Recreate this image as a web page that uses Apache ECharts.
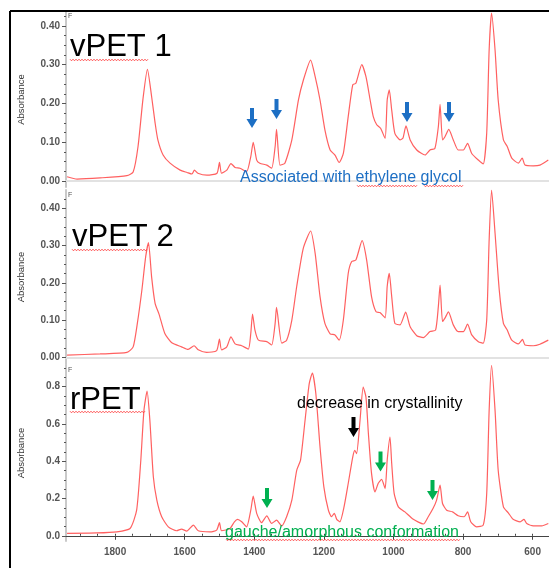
<!DOCTYPE html>
<html>
<head>
<meta charset="utf-8" />
<script src="https://cdn.jsdelivr.net/npm/echarts@6/dist/echarts.min.js"></script>
<style>
  html, body { margin: 0; padding: 0; background: #fff; }
  #chart { width: 549px; height: 568px; }
</style>
</head>
<body>
<div id="chart"></div>
<script>
// wavenumbers (cm-1) and absorbance
const wnVpet1 = [1938,1909,1843,1766,1748,1734,1720,1707,1695,1685,1677,1662,1642,1613,1593,1579,1572,1562,1536,1507,1500,1494,1479,1467,1455,1441,1422,1410,1403,1393,1384,1364,1350,1340,1336,1326,1312,1292,1273,1259,1238,1225,1211,1197,1182,1168,1156,1144,1130,1117,1108,1091,1079,1067,1058,1048,1037,1024,1018,1012,1005,996,981,973,964,952,933,909,895,881,871,866,859,852,841,828,814,799,787,775,756,742,732,725,718,708,699,684,673,660,641,630,622,598,579,555];
const absVpet1 = [0.011,0.005,0.008,0.014,0.023,0.089,0.21,0.288,0.218,0.15,0.106,0.067,0.046,0.028,0.022,0.018,0.028,0.02,0.015,0.02,0.048,0.02,0.028,0.045,0.035,0.033,0.024,0.063,0.10,0.054,0.046,0.041,0.033,0.089,0.133,0.041,0.046,0.106,0.209,0.26,0.312,0.269,0.209,0.132,0.08,0.067,0.048,0.071,0.166,0.248,0.252,0.30,0.269,0.209,0.166,0.145,0.136,0.11,0.209,0.235,0.183,0.123,0.106,0.11,0.142,0.106,0.08,0.067,0.08,0.084,0.14,0.198,0.106,0.114,0.133,0.106,0.08,0.08,0.097,0.071,0.054,0.044,0.124,0.338,0.433,0.338,0.209,0.106,0.089,0.059,0.046,0.059,0.041,0.039,0.041,0.054];

const wnVpet2 = [1938,1843,1766,1748,1736,1723,1712,1704,1695,1685,1673,1657,1637,1609,1590,1573,1561,1537,1508,1500,1494,1479,1467,1455,1436,1417,1410,1405,1398,1388,1364,1350,1340,1336,1321,1307,1292,1278,1259,1238,1225,1211,1197,1182,1168,1156,1144,1130,1120,1108,1090,1077,1063,1050,1039,1024,1018,1012,1005,996,981,965,952,933,914,895,879,871,866,859,852,842,828,814,799,787,775,756,742,732,725,718,708,696,684,673,660,641,629,622,598,579,555];
const absVpet2 = [0.006,0.009,0.013,0.028,0.091,0.18,0.27,0.308,0.216,0.145,0.114,0.064,0.039,0.028,0.021,0.031,0.02,0.013,0.018,0.049,0.02,0.028,0.055,0.036,0.031,0.022,0.064,0.116,0.073,0.046,0.042,0.033,0.091,0.134,0.038,0.046,0.10,0.19,0.293,0.339,0.279,0.163,0.091,0.063,0.06,0.046,0.10,0.225,0.257,0.261,0.313,0.261,0.163,0.122,0.12,0.106,0.19,0.225,0.163,0.091,0.087,0.121,0.082,0.058,0.053,0.069,0.073,0.136,0.194,0.096,0.105,0.122,0.087,0.069,0.069,0.089,0.06,0.042,0.038,0.10,0.315,0.449,0.333,0.181,0.091,0.073,0.046,0.036,0.048,0.033,0.031,0.035,0.046];

const wnRpet = [1938,1853,1795,1757,1738,1726,1717,1708,1700,1690,1680,1666,1647,1623,1609,1594,1575,1561,1527,1508,1500,1494,1470,1457,1448,1436,1422,1410,1403,1393,1379,1364,1350,1336,1321,1307,1292,1278,1267,1254,1242,1233,1223,1211,1200,1187,1178,1170,1163,1154,1142,1130,1117,1111,1106,1096,1087,1079,1072,1063,1053,1044,1034,1024,1018,1010,1005,998,986,967,943,914,900,886,876,866,859,847,830,814,797,787,778,761,742,732,725,718,708,699,684,670,656,636,625,617,598,574,555];
const absRpet = [0.013,0.015,0.021,0.039,0.137,0.405,0.672,0.775,0.619,0.316,0.191,0.102,0.048,0.027,0.036,0.025,0.057,0.027,0.021,0.03,0.07,0.027,0.039,0.075,0.088,0.075,0.048,0.137,0.212,0.12,0.07,0.107,0.066,0.084,0.053,0.102,0.191,0.351,0.405,0.619,0.815,0.872,0.761,0.476,0.262,0.137,0.102,0.12,0.088,0.075,0.155,0.28,0.422,0.458,0.44,0.619,0.797,0.743,0.548,0.334,0.235,0.28,0.302,0.253,0.405,0.529,0.387,0.227,0.155,0.128,0.088,0.063,0.102,0.147,0.191,0.271,0.173,0.137,0.128,0.107,0.102,0.128,0.075,0.048,0.057,0.227,0.672,0.913,0.672,0.351,0.155,0.123,0.088,0.075,0.088,0.066,0.053,0.053,0.066];

const xTicks = [1800, 1600, 1400, 1200, 1000, 800, 600];
const yTicksVpet = [0, 0.1, 0.2, 0.3, 0.4];
const yTicksRpet = [0, 0.2, 0.4, 0.6, 0.8];

const chart = echarts.init(document.getElementById("chart"));
const FONT = "'Liberation Sans', Arial, sans-serif";
const RED = "#ff4444";

function pairs(xs, ys) {
  return xs.map((x, i) => [x, ys[i]]);
}

function range(a, b, step) {
  const out = [];
  for (let v = a; v <= b + 1e-9; v += step) out.push(+v.toFixed(4));
  return out;
}

const grids = [
  { left: 66, right: 0, top: 12, height: 175 },
  { left: 66, right: 0, top: 190, height: 174 },
  { left: 66, right: 0, top: 365, height: 176 },
];
const yRanges = [
  { min: -0.0155, max: 0.436, ticks: yTicksVpet, minor: 0.025, digits: 2 },
  { min: -0.018, max: 0.449, ticks: yTicksVpet, minor: 0.025, digits: 2 },
  { min: -0.028, max: 0.915, ticks: yTicksRpet, minor: 0.05, digits: 1 },
];

const xBase = { type: "value", min: 553, max: 1941, inverse: true, splitLine: { show: false } };
const xAxes = [
  { ...xBase, gridIndex: 0, axisLine: { lineStyle: { color: "#e2e2e2", width: 2 } }, axisTick: { show: false }, axisLabel: { show: false } },
  { ...xBase, gridIndex: 1, axisLine: { lineStyle: { color: "#e2e2e2", width: 2 } }, axisTick: { show: false }, axisLabel: { show: false } },
  {
    ...xBase, gridIndex: 2,
    axisLine: { lineStyle: { color: "#444", width: 1 } },
    axisTick: { customValues: xTicks, length: 4, lineStyle: { color: "#444" } },
    axisLabel: {
      customValues: xTicks, margin: 6, fontSize: 10, fontWeight: "bold", color: "#555", fontFamily: FONT,
      formatter: (v) => String(v),
    },
  },
  // minor ticks every 50
  {
    ...xBase, gridIndex: 2,
    axisLine: { show: false },
    axisTick: { customValues: range(600, 1900, 50), length: 2, lineStyle: { color: "#444" } },
    axisLabel: { show: false },
  },
];

const yAxes = [];
yRanges.forEach((r, i) => {
  yAxes.push({
    type: "value", gridIndex: i, position: "left", min: r.min, max: r.max,
    splitLine: { show: false },
    axisLine: { show: true, lineStyle: { color: "#c9c9c9", width: 2 } },
    axisTick: { show: true, customValues: r.ticks, length: 4, lineStyle: { color: "#555" } },
    axisLabel: {
      customValues: r.ticks, margin: 6, fontSize: 10, fontWeight: "bold", color: "#555", fontFamily: FONT,
      formatter: (v) => v.toFixed(r.digits),
    },
    name: "Absorbance", nameLocation: "middle", nameGap: 40, nameRotate: 90,
    nameTextStyle: { fontSize: 9.5, color: "#333", fontFamily: FONT },
  });
  yAxes.push({
    type: "value", gridIndex: i, position: "left", min: r.min, max: r.max,
    splitLine: { show: false },
    axisLine: { show: false },
    axisTick: { show: true, customValues: range(0, r.max, r.minor), length: 2, lineStyle: { color: "#555" } },
    axisLabel: { show: false },
  });
});

const spectra = [pairs(wnVpet1, absVpet1), pairs(wnVpet2, absVpet2), pairs(wnRpet, absRpet)];
const series = spectra.map((d, i) => ({
  type: "line",
  xAxisIndex: i,
  yAxisIndex: i * 2,
  data: d,
  showSymbol: false,
  smooth: 0.2,
  lineStyle: { color: RED, width: 1.2, opacity: 0.85 },
  animation: false,
}));

// down arrow with tip at (cx, tipY)
function arrow(cx, tipY, color) {
  return {
    type: "polygon",
    shape: {
      points: [
        [cx - 2, tipY - 20], [cx + 2, tipY - 20], [cx + 2, tipY - 9], [cx + 5.5, tipY - 9],
        [cx, tipY], [cx - 5.5, tipY - 9], [cx - 2, tipY - 9],
      ],
    },
    style: { fill: color },
    z: 10,
  };
}

// spell-check style squiggle
function squiggle(x1, x2, y) {
  const pts = [];
  let up = true;
  for (let x = x1; x <= x2; x += 1.5) {
    pts.push([x, y + (up ? -0.8 : 0.8)]);
    up = !up;
  }
  return { type: "polyline", shape: { points: pts }, style: { stroke: "#ff3030", lineWidth: 0.8, fill: null }, z: 10 };
}

function label(text, x, y, size, color) {
  return {
    type: "text", x: x, y: y, z: 10,
    style: { text: text, fill: color, font: size + "px " + FONT, textVerticalAlign: "middle" },
  };
}

const BLUE = "#1d6fc4";
const GREEN = "#00b050";

const graphic = [
  // outer frame on left and top
  { type: "line", shape: { x1: 10, y1: 11, x2: 10, y2: 568 }, style: { stroke: "#000", lineWidth: 2 }, z: 20 },
  { type: "line", shape: { x1: 10, y1: 11, x2: 549, y2: 11 }, style: { stroke: "#000", lineWidth: 2 }, z: 20 },
  label("vPET 1", 70, 47, 31, "#000"),
  label("vPET 2", 72, 237, 31, "#000"),
  label("rPET", 70, 400, 31, "#000"),
  squiggle(70, 148, 60),
  squiggle(72, 148, 250),
  squiggle(70, 145, 412),
  label("Associated with ethylene glycol", 240, 178, 16, BLUE),
  squiggle(357, 417, 186),
  squiggle(424, 463, 186),
  label("decrease in crystallinity", 297, 404, 16, "#000"),
  label("gauche/amorphous conformation", 225, 533, 16, GREEN),
  squiggle(226, 461, 540),
  arrow(252, 128, BLUE),
  arrow(276.5, 119, BLUE),
  arrow(407, 122, BLUE),
  arrow(449, 122, BLUE),
  arrow(353.5, 437, "#000"),
  arrow(267, 508, GREEN),
  arrow(380.5, 471.5, GREEN),
  arrow(432.5, 500, GREEN),
  // tiny "F" glyphs at the top of each y axis
  { type: "text", x: 68, y: 13, style: { text: "F", fill: "#555", font: "7px " + FONT } },
  { type: "text", x: 68, y: 192, style: { text: "F", fill: "#555", font: "7px " + FONT } },
  { type: "text", x: 68, y: 367, style: { text: "F", fill: "#555", font: "7px " + FONT } },
];

chart.setOption({
  animation: false,
  backgroundColor: "#fff",
  grid: grids,
  xAxis: xAxes,
  yAxis: yAxes,
  series: series,
  graphic: graphic,
});
</script>
</body>
</html>
